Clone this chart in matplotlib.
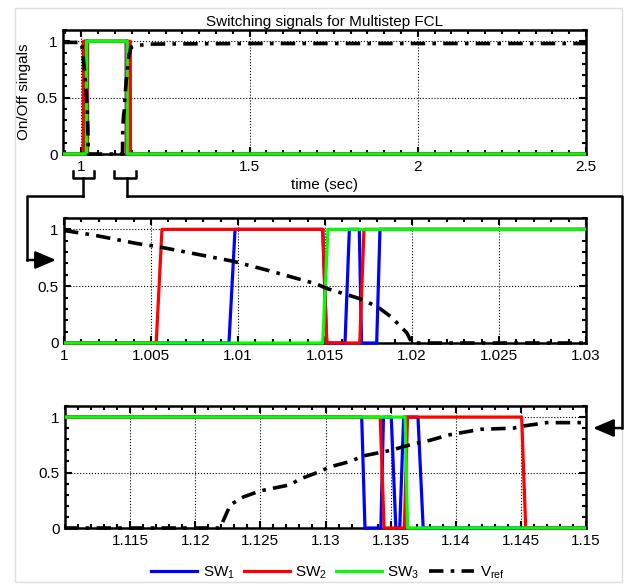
import matplotlib.pyplot as plt
from matplotlib.patches import Rectangle, FancyArrowPatch
from matplotlib.lines import Line2D
from matplotlib.ticker import MultipleLocator

plt.rcParams['font.family'] = ['Liberation Sans', 'DejaVu Sans']
plt.rcParams['mathtext.fontset'] = 'custom'
plt.rcParams['mathtext.rm'] = 'Liberation Sans'
plt.rcParams['mathtext.default'] = 'rm'

# switching signals (time in s, state 0/1)
sw1_t = [0.945, 1.00948, 1.00983, 1.01487, 1.0151, 1.01615, 1.0164, 1.01697, 1.0171,
         1.01797, 1.01816, 1.13278, 1.13303, 1.13425, 1.13445, 1.13505, 1.1354,
         1.1357, 1.1360, 1.1371, 1.1375, 2.5]
sw1_v = [0, 0, 1, 1, 0, 0, 1, 1, 0, 0, 1, 1, 0, 0, 1, 1, 0, 0, 1, 1, 0, 0]

sw2_t = [0.945, 1.0053, 1.00563, 1.01487, 1.0151, 1.0170, 1.01724, 1.1342, 1.1345,
         1.13605, 1.1363, 1.14506, 1.14537, 2.5]
sw2_v = [0, 0, 1, 1, 0, 0, 1, 1, 0, 0, 1, 1, 0, 0]

sw3_t = [0.945, 1.01487, 1.01517, 1.13611, 1.1363, 2.5]
sw3_v = [0, 0, 1, 1, 0, 0]

vref_t = [0.945, 1.0, 1.0017, 1.0042, 1.0055, 1.0097, 1.0117, 1.0145, 1.0151, 1.0170,
          1.0180, 1.0188, 1.0197, 1.0200, 1.1219, 1.1227, 1.1237, 1.1250, 1.1273,
          1.1280, 1.1296, 1.1303, 1.1319, 1.1329, 1.1350, 1.1365, 1.1380, 1.1395,
          1.1419, 1.1444, 1.1452, 1.1470, 1.1500, 1.16, 1.2, 1.5, 2.0, 2.5]
vref_v = [0.99, 0.99, 0.95, 0.875, 0.845, 0.72, 0.64, 0.52, 0.48, 0.39,
          0.32, 0.23, 0.09, 0.0, 0.0, 0.21, 0.28, 0.335, 0.39,
          0.44, 0.51, 0.55, 0.60, 0.65, 0.70, 0.75, 0.79, 0.84,
          0.89, 0.90, 0.92, 0.95, 0.95, 0.96, 0.975, 0.98, 0.98, 0.98]

top_ticks = [1, 1.5, 2, 2.5]
top_labels = ['1', '1.5', '2', '2.5']
mid_ticks = [1, 1.005, 1.01, 1.015, 1.02, 1.025, 1.03]
mid_labels = ['1', '1.005', '1.01', '1.015', '1.02', '1.025', '1.03']
bot_ticks = [1.115, 1.12, 1.125, 1.13, 1.135, 1.14, 1.145, 1.15]
bot_labels = ['1.115', '1.12', '1.125', '1.13', '1.135', '1.14', '1.145', '1.15']

W, H = 627, 585
FS = 11
fig = plt.figure(figsize=(6.27, 5.85), dpi=100)


def fx(x, y):
    return (x / W, 1 - y / H)


def make_axes(left, top, right, bottom):
    return fig.add_axes([left / W, 1 - bottom / H, (right - left) / W, (bottom - top) / H])


ax1 = make_axes(63, 30, 586, 154)
ax2 = make_axes(64, 218, 586, 343)
ax3 = make_axes(65, 406, 586, 528)

panels = [
    (ax1, (0.945, 2.5), top_ticks, top_labels, 0.05),
    (ax2, (1.0, 1.03), mid_ticks, mid_labels, 0.001),
    (ax3, (1.11, 1.15), bot_ticks, bot_labels, 0.001),
]

for ax, xlim, ticks, labels, minor in panels:
    lines = []
    for t, v, c in [(sw1_t, sw1_v, '#0000ff'), (sw2_t, sw2_v, '#ff0000'),
                    (sw3_t, sw3_v, '#00ff00')]:
        ln, = ax.plot(t, v, color=c, lw=2.3, zorder=3)
        lines.append(ln)
    ln, = ax.plot(vref_t, vref_v, color='k', lw=2.6, zorder=4,
                  dashes=[4, 2, 1, 2])
    lines.append(ln)
    for ln in lines:
        ln.set_clip_path(Rectangle((0, -0.05), 1, 1.1, transform=ax.transAxes))

    ax.set_xlim(*xlim)
    ax.set_ylim(0, 1.1)
    ax.set_xticks(ticks)
    ax.set_xticklabels(labels)
    ax.set_yticks([0, 0.5, 1])
    ax.set_yticklabels(['0', '0.5', '1'])
    ax.xaxis.set_minor_locator(MultipleLocator(minor))
    ax.yaxis.set_minor_locator(MultipleLocator(0.1))
    ax.tick_params(which='both', direction='in', top=True, right=True,
                   width=1.5, labelsize=FS, pad=4)
    ax.tick_params(which='major', length=5)
    ax.tick_params(which='minor', length=3)
    ax.grid(True, which='major', ls=':', color='k', lw=0.8)
    for s in ax.spines.values():
        s.set_linewidth(1.8)

ax1.set_title('Switching signals for Multistep FCL', fontsize=FS, pad=3)
ax1.set_ylabel('On/Off singals', fontsize=FS, labelpad=4)
ax1.set_xlabel('time (sec)', fontsize=FS, labelpad=3)

fig.legend(lines, ['SW$_1$', 'SW$_2$', 'SW$_3$', 'V$_{ref}$'], ncol=4, frameon=False,
           loc='center', bbox_to_anchor=fx(328, 573), fontsize=FS,
           handlelength=3.0, columnspacing=0.6, handletextpad=0.35)

# brackets and arrows linking the zoomed panels
lk = dict(color='k', lw=1.8, transform=fig.transFigure)
for x0, x1, xs in [(73, 94, 83), (114, 136, 127)]:
    pts = [fx(x0, 171), fx(x0, 178), fx(x1, 178), fx(x1, 171)]
    fig.add_artist(Line2D([p[0] for p in pts], [p[1] for p in pts], **lk))
    pts = [fx(xs, 178), fx(xs, 196)]
    fig.add_artist(Line2D([p[0] for p in pts], [p[1] for p in pts], **lk))

pts = [fx(83, 196), fx(27, 196), fx(27, 260)]
fig.add_artist(Line2D([p[0] for p in pts], [p[1] for p in pts], **lk))
pts = [fx(127, 196), fx(622, 196), fx(622, 428)]
fig.add_artist(Line2D([p[0] for p in pts], [p[1] for p in pts], **lk))

astyle = '-|>,head_length=0.7,head_width=0.3'
fig.add_artist(FancyArrowPatch(fx(27, 260), fx(56, 260), transform=fig.transFigure,
                               arrowstyle=astyle, mutation_scale=18, lw=1.8,
                               color='k', shrinkA=0, shrinkB=0))
fig.add_artist(FancyArrowPatch(fx(622, 428), fx(593, 428), transform=fig.transFigure,
                               arrowstyle=astyle, mutation_scale=18, lw=1.8,
                               color='k', shrinkA=0, shrinkB=0))

fig.add_artist(Rectangle(fx(15, 582), (622 - 15) / W, (582 - 8) / H,
                         transform=fig.transFigure, fill=False, ec='#dedede', lw=1))

fig.savefig('out.png', dpi=100)
